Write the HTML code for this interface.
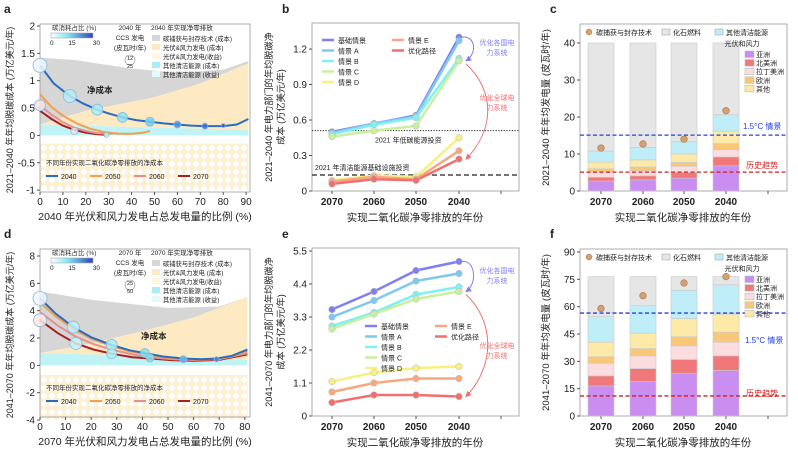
<!DOCTYPE html>
<html><head><meta charset="utf-8">
<style>
body{margin:0;background:#fff;}
svg text{font-family:"Liberation Sans","Noto Sans CJK SC",sans-serif;fill:#222;}
</style></head>
<body>
<svg id="s" width="798" height="450" xmlns="http://www.w3.org/2000/svg">
<defs>
<pattern id="dia" width="8" height="8" patternUnits="userSpaceOnUse">
<rect width="8" height="8" fill="#fdf0d2"/>
<path d="M4 0.5 L7.5 4 L4 7.5 L0.5 4Z" fill="#fff"/>
</pattern>
<marker id="ab" markerWidth="6" markerHeight="6" refX="5" refY="3" orient="auto"><path d="M0 0L6 3L0 6Z" fill="#8080f0"/></marker>
<marker id="ar" markerWidth="6" markerHeight="6" refX="5" refY="3" orient="auto"><path d="M0 0L6 3L0 6Z" fill="#f07070"/></marker>
<linearGradient id="cb" x1="0" x2="1"><stop offset="0" stop-color="#fff"/><stop offset=".4" stop-color="#7fe8f0"/><stop offset="1" stop-color="#3040c0"/></linearGradient>
</defs>
</svg>
<script>
const S=document.getElementById('s');let h='';
function t(x,y,s,sz,o){o=o||{};h+=`<text x="${x}" y="${y}" font-size="${sz}" text-anchor="${o.a||'start'}" ${o.b?'font-weight="bold"':''} ${o.f?`fill="${o.f}" style="fill:${o.f}"`:''} ${o.r?`transform="rotate(-90 ${x} ${y})"`:''}>${s}</text>`;}
function ln(x1,y1,x2,y2,c,w,d){h+=`<line x1="${x1}" y1="${y1}" x2="${x2}" y2="${y2}" stroke="${c}" stroke-width="${w||1}" ${d?`stroke-dasharray="${d}"`:''}/>`;}
function rc(x,y,w,hh,f,st){h+=`<rect x="${x}" y="${y}" width="${w}" height="${hh}" fill="${f}" ${st?`stroke="${st}" stroke-width="0.6"`:''}/>`;}
function interp(pts,x){for(let i=0;i<pts.length-1;i++){if(x>=pts[i][0]&&x<=pts[i+1][0]){const f=(x-pts[i][0])/(pts[i+1][0]-pts[i][0]);return pts[i][1]+f*(pts[i+1][1]-pts[i][1]);}}return pts[pts.length-1][1];}
function smooth(pts,X,Y){let d='';const n=pts.length;for(let i=0;i<n;i++){const p=pts[i];d+=(i?'L':'M')+X(p[0]).toFixed(1)+' '+Y(p[1]).toFixed(1);}return d;}
function area(top,bot,X,Y,x0,x1,fill){let d='M';const N=60;for(let i=0;i<=N;i++){const x=x0+(x1-x0)*i/N;d+=(i?'L':'')+X(x).toFixed(1)+' '+Y(interp(top,x)).toFixed(1);}for(let i=N;i>=0;i--){const x=x0+(x1-x0)*i/N;d+='L'+X(x).toFixed(1)+' '+Y(interp(bot,x)).toFixed(1);}h+=`<path d="${d}Z" fill="${fill}"/>`;}

function panelAD(oy,opt){
 const L=40,R=250,T=oy+24,B=oy+192;
 const X=p=>L+p*opt.xs, Y=v=>opt.y0+(opt.vmax-v)*opt.ys;
 area([[0,opt.vmin],[opt.xmax,opt.vmin]],opt.patTop,X,Y,0,opt.xmax,'url(#dia)');
 area(opt.cyTop,[[0,0],[opt.xmax,0]],X,Y,0,opt.xmax,'#bff3f6');
 area(opt.yeTop,opt.cyTop,X,Y,0,opt.xmax,'#fdeac3');
 area(opt.grTop,opt.yeTop,X,Y,0,opt.xmax,'#d6d6d6');
 h+=`<rect x="${L}" y="${T}" width="${R-L}" height="${B-T}" fill="none" stroke="#999" stroke-width="0.8"/>`;
 for(const v of opt.yt){const y=Y(v);ln(L-3,y,L,y,'#555');t(L-5,y+3.5,v,10,{a:'end'});}
 for(let p=0;p<=opt.xmax+0.1;p+=10){const x=X(p);ln(x,B,x,B+3,'#555');t(x,B+13,p,10,{a:'middle'});}
 const cols={2040:'#2a6cc0',2050:'#f0a050',2060:'#e89090',2070:'#a82020'};
 for(const k of opt.order){h+=`<path d="${smooth(opt.curves[k],X,Y)}" fill="none" stroke="${cols[k]}" stroke-width="2"/>`;}
 for(const c of opt.circ){h+=`<circle cx="${X(c[0])}" cy="${Y(c[1])}" r="${c[2]}" fill="${c[3]}" fill-opacity="0.85" stroke="#8ab8e0" stroke-width="0.8"/>`;}
 t(52,oy+30,'碳消耗占比 (%)',6.5,{f:'#333'});
 rc(51,oy+33,42,5,'url(#cb)','#aaa');
 t(50,oy+45,'0',6.5);t(72,oy+45,'15',6.5,{a:'middle'});t(100,oy+45,'30',6.5,{a:'end'});
 t(130,oy+30,opt.yr+' 年',6.5,{a:'middle'});t(130,oy+40,'CCS 发电',6.5,{a:'middle'});t(130,oy+50,'(皮瓦时/年)',6.5,{a:'middle'});
 h+=`<circle cx="130" cy="${oy+60}" r="5" fill="none" stroke="#888" stroke-width="0.6"/>`;t(130,oy+60,opt.c1,5.5,{a:'middle'});t(130,oy+68,opt.c2,5.5,{a:'middle'});
 t(151,oy+30,opt.yr+' 年实现净零排放',6.5);
 const lg=[['#d6d6d6','碳捕获与封存技术 (成本)'],['#fdeac3','光伏&风力发电 (成本)'],['#fff6e0','光伏&风力发电(收益)'],['#a8eef4','其他清洁能源 (成本)'],['#e0fbfc','其他清洁能源 (收益)']];
 lg.forEach((g,i)=>{rc(152,oy+35+i*9,8,6,g[0]);t(163,oy+41+i*9,g[1],6.3);});
 t(opt.ncx,opt.ncy,'净成本',8.5,{b:1});
 t(46,B-27,'不同年份实现二氧化碳净零排放的净成本',6.5);
 [['2040',2040],['2050',2050],['2060',2060],['2070',2070]].forEach((g,i)=>{const x=46+i*44;ln(x,B-16,x+12,B-16,cols[g[1]],2);t(x+15,B-13,g[0],7);});
 t(13,(T+B)/2+2,opt.ylab,9,{a:'middle',r:1});
 t(145,B+28,opt.xlab,10.5,{a:'middle'});
}
panelAD(0,{xs:2.29,xmax:91,y0:26,vmax:2,vmin:-1,ys:54.7,yt:[2,1.5,1,0.5,0,-0.5,-1],
 patTop:[[0,-0.15],[91,-0.15]],cyTop:[[0,0.2],[91,0.1]],yeTop:[[0,0.2],[20,0.45],[50,0.7],[70,0.95],[91,1.32]],
 grTop:[[0,1.42],[15,1.38],[40,1.22],[60,1.15],[80,1.2],[91,1.36]],
 order:[2070,2060,2050,2040],
 curves:{2040:[[0,1.28],[6,0.95],[13,0.72],[19,0.58],[25,0.47],[30,0.4],[36,0.33],[42,0.28],[48,0.25],[54,0.22],[60,0.2],[66,0.18],[72,0.17],[80,0.17],[86,0.2],[91,0.3]],
  2050:[[0,0.75],[5,0.52],[10,0.36],[16,0.22],[22,0.12],[28,0.06],[34,0.03],[40,0.03],[45,0.05],[48,0.08]],
  2060:[[0,0.55],[5,0.38],[10,0.24],[15,0.14],[20,0.08],[25,0.04],[30,0.03],[34,0.04]],
  2070:[[0,0.45],[5,0.3],[10,0.18],[15,0.1],[20,0.05],[25,0.02],[29,0.01]]},
 circ:[[0,1.28,7,'#eef6ff'],[13,0.72,6.5,'#b8ecf4'],[25,0.47,5.5,'#a8eef4'],[36,0.33,5,'#90e4f0'],[48,0.25,4.5,'#70d0ee'],[60,0.2,3.5,'#4a90e0'],[72,0.17,3,'#3a70d8'],[80,0.18,2,'#3050c8'],[0,0.55,5.5,'#fbe4e4'],[15,0.08,3.5,'#e8e8e8'],[29,0.01,2.5,'#c0f0f0']],
 ncx:87,ncy:93,yr:2040,c1:'12',c2:'25',
 ylab:'2021–2040 年年均脱碳成本 (万亿美元/年)',xlab:'2040 年光伏和风力发电占总发电量的比例 (%)'});
panelAD(225,{xs:2.56,xmax:81,y0:256,vmax:8,vmin:-4,ys:13.67,yt:[8,6,4,2,0,-2,-4],
 patTop:[[0,-0.7],[81,-0.7]],cyTop:[[0,0.9],[40,0.7],[81,0.4]],yeTop:[[0,0.9],[20,1.6],[40,2.5],[60,3.5],[81,5]],
 grTop:[[0,5.4],[20,4.8],[50,4.2],[70,4.3],[81,5]],
 order:[2070,2060,2050,2040],
 curves:{2040:[[0,4.9],[6,3.8],[13,2.8],[20,2.05],[28,1.5],[35,1.1],[41,0.9],[48,0.65],[56,0.5],[63,0.45],[69,0.5],[75,0.7],[81,1.15]],
  2050:[[0,4.6],[6,3.6],[13,2.65],[20,1.95],[28,1.4],[35,1.02],[41,0.82],[48,0.6],[56,0.47],[63,0.43],[69,0.48],[75,0.65],[81,1.05]],
  2060:[[0,3.9],[7,2.9],[14,2.1],[21,1.55],[28,1.15],[36,0.8],[43,0.6],[52,0.45],[60,0.4],[70,0.45],[81,0.9]],
  2070:[[0,3.3],[7,2.35],[14,1.6],[21,1.15],[28,0.85],[36,0.6],[43,0.5],[52,0.38],[60,0.33],[70,0.4],[81,0.8]]},
 circ:[[0,4.9,7,'#eef6ff'],[0,3.3,6.5,'#fbe8e8'],[13,2.8,6,'#c8f0f6'],[14,1.6,6,'#c8f4f6'],[28,1.5,5.5,'#a8eef4'],[28,0.85,5,'#b0f0f4'],[41,0.9,4.5,'#80e0f0'],[43,0.55,4,'#80e0f0'],[56,0.45,3.5,'#60b8ee'],[69,0.45,2.5,'#4a80e0']],
 ncx:141,ncy:339,yr:2070,c1:'25',c2:'50',
 ylab:'2041–2070 年年均脱碳成本 (万亿美元/年)',xlab:'2070 年光伏和风力发电占总发电量的比例 (%)'});

const XS=[332,374,416,459],YRS=['2070','2060','2050','2040'];
const SC=[['基础情景','#8080f0'],['情景 A','#80c8f0'],['情景 B','#80f0f0'],['情景 C','#c8f0a0'],['情景 D','#f8f080'],['情景 E','#f8a880'],['优化路径','#f07070']];
function panelBE(oy,o){
 const L=312,R=519,T=oy+23,B=oy+191;const Y=v=>B-v*o.s;
 h+=`<rect x="${L}" y="${T}" width="${R-L}" height="${B-T}" fill="none" stroke="#999" stroke-width="0.8"/>`;
 for(const v of o.yt){const y=Y(v);ln(L-3,y,L,y,'#555');t(L-5,y+3.5,v,10,{a:'end'});}
 XS.forEach((x,i)=>{ln(x,B,x,B+3,'#555');t(x,B+14,YRS[i],10,{a:'middle',b:1});});
 ln(501,B,501,B+3,'#555');
 if(o.lines)o.lines();
 o.data.forEach((d,i)=>{let p='';d.forEach((v,j)=>{p+=(j?'L':'M')+XS[j]+' '+Y(v).toFixed(1);});h+=`<path d="${p}" fill="none" stroke="${SC[i][1]}" stroke-width="2.5"/>`;d.forEach((v,j)=>{h+=`<circle cx="${XS[j]}" cy="${Y(v)}" r="3.3" fill="${SC[i][1]}" stroke="#bbb" stroke-width="0.5"/>`;});});
 SC.forEach((s,i)=>{const c=i<5?0:1,r=i<5?i:i-5;const x=o.lx+c*70,y=o.ly+r*10.5;ln(x,y,x+12,y,s[1],2.5);t(x+16,y+3,s[0],7);});
 const y1=Y(o.top),y2=Y(o.mid),y3=Y(o.bot);
 h+=`<path d="M462 ${y1} C475 ${y1-2},478 ${y2-8},466 ${y2}" fill="none" stroke="#8080f0" stroke-width="1" marker-end="url(#ab)"/>`;
 h+=`<path d="M466 ${y2+3} C495 ${y2+30},495 ${y3-30},466 ${y3}" fill="none" stroke="#f07070" stroke-width="1" marker-end="url(#ar)"/>`;
 t(497,o.t1,'优化各国电',7,{a:'middle',f:'#8080f0'});t(497,o.t1+10,'力系统',7,{a:'middle',f:'#8080f0'});
 t(497,o.t2,'优化全球电',7,{a:'middle',f:'#f07070'});t(497,o.t2+10,'力系统',7,{a:'middle',f:'#f07070'});
 t(272,(T+B)/2,o.yl1,9.2,{a:'middle',r:1});t(284,(T+B)/2,'成本 (万亿美元/年)',9.2,{a:'middle',r:1});
 t(415,B+30,'实现二氧化碳净零排放的年份',10.5,{a:'middle'});
}
panelBE(0,{s:118.3,yt:[0,0.3,0.6,0.9,1.2],lx:322,ly:40,top:1.3,mid:1.1,bot:0.27,t1:45,t2:100,
 data:[[.50,.57,.64,1.30],[.49,.57,.63,1.27],[.48,.56,.62,1.12],[.46,.51,.55,1.10],[.09,.13,.12,.45],[.08,.12,.10,.34],[.06,.10,.09,.27]],
 yl1:'2021–2040 年电力部门的年均脱碳净',
 lines:()=>{const Y=v=>191-v*118.3;ln(312,Y(0.51),519,Y(0.51),'#222',1,'1.2 1.5');t(375,Y(0.51)+12,'2021 年低碳能源投资',7);ln(312,Y(0.135),519,Y(0.135),'#222',1.2,'5 3');t(315,Y(0.135)-5,'2021 年清洁能源基础设施投资',7);}});
panelBE(225,{s:30,yt:[0,1.1,2.2,3.3,4.4,5.5],lx:365,ly:326,top:5.15,mid:4.15,bot:0.65,t1:273,t2:348,
 data:[[3.55,4.15,4.85,5.15],[3.3,3.85,4.5,4.75],[3.0,3.45,4.05,4.3],[2.9,3.4,3.9,4.15],[1.15,1.45,1.6,1.65],[0.8,1.1,1.25,1.25],[0.45,0.7,0.7,0.65]],
 yl1:'2041–2070 年电力部门的年均脱碳净'});

const BX=[601,643,684,726];
const BC=['#c98ef0','#f07878','#fbdde0','#f8c878','#fdeaa8','#bfeef8','#e6e6e6'];
function panelCF(oy,o){
 const L=580,R=787,T=oy+24,B=oy+191;const Y=v=>B-v*o.s;
 h+=`<rect x="${L}" y="${T}" width="${R-L}" height="${B-T}" fill="#fff" stroke="#999" stroke-width="0.8"/>`;
 for(const v of o.yt){const y=Y(v);ln(L-3,y,L,y,'#555');t(L-5,y+3.5,v,10,{a:'end'});}
 BX.forEach((x,i)=>{ln(x,B,x,B+3,'#555');t(x,B+14,YRS[i],10,{a:'middle',b:1});});
 ln(768,B,768,B+3,'#555');
 o.d.forEach((d,i)=>{let prev=0;d.slice(0,7).forEach((v,j)=>{rc(BX[i]-13,Y(v),26,Y(prev)-Y(v),BC[j],'#c8c8c8');prev=v;});h+=`<circle cx="${BX[i]}" cy="${Y(d[7])}" r="3.3" fill="#d4a070" stroke="#a07850" stroke-width="0.6"/>`;});
 ln(L,Y(o.b15),R,Y(o.b15),'#2040e0',1.3,'4 2.5');ln(L,Y(o.hist),R,Y(o.hist),'#d02020',1.3,'4 2.5');
 t(o.b15x,o.b15y,'1.5°C 情景',8,{f:'#2040e0'});t(746,o.hy,'历史趋势',8,{f:'#d02020'});
 h+=`<circle cx="589" cy="${oy+32}" r="3" fill="#d4a070" stroke="#a07850" stroke-width="0.5"/>`;t(596,oy+35,'碳捕获与封存技术',7);
 rc(662,oy+29,8,6,'#e6e6e6','#aaa');t(673,oy+35,'化石燃料',7);
 rc(715,oy+29,8,6,'#bfeef8','#aaa');t(726,oy+35,'其他清洁能源',7);
 t(742,oy+46,'光伏和风力',7,{a:'middle'});
 ['亚洲','北美洲','拉丁美洲','欧洲','其他'].forEach((s,i)=>{rc(745,oy+51+i*8.6,9,6.5,BC[i],'#bbb');t(756,oy+57+i*8.6,s,7);});
 t(549,(T+B)/2,o.yl,9.5,{a:'middle',r:1});
 t(683,B+30,'实现二氧化碳净零排放的年份',10.5,{a:'middle'});
}
panelCF(0,{s:3.7,yt:[0,10,20,30,40],b15:15.1,hist:5.1,b15x:743,b15y:129,hy:168,
 d:[[2.7,3.7,5.2,6.0,7.8,10.8,40,11.6],[3.0,4.1,5.5,6.5,8.4,11.8,40,12.7],[3.5,5.0,6.7,7.7,10.0,13.3,40,14.0],[6.8,9.2,11.2,12.8,16.2,20.6,40,21.7]],
 yl:'2021–2040 年年均发电量 (皮瓦时/年)'});
panelCF(225,{s:1.822,yt:[0,15,30,45,60,75,90],b15:56.5,hist:11,b15x:745,b15y:343,hy:396,
 d:[[16.5,22,29,32.5,40.5,54.5,76.5,59],[19,26,33,37,45.5,60.5,76.5,66],[23.5,31,38.5,43.5,53.5,69,76.5,73],[25,33,40.5,46,56,72,76.5,76.5]],
 yl:'2041–2070 年年均发电量 (皮瓦时/年)'});

[['a',4,13],['b',282,13],['c',550,13],['d',4,238],['e',282,238],['f',550,238]].forEach(p=>t(p[1],p[2],p[0],12,{b:1}));
S.insertAdjacentHTML('beforeend',h);
</script>
</body></html>
